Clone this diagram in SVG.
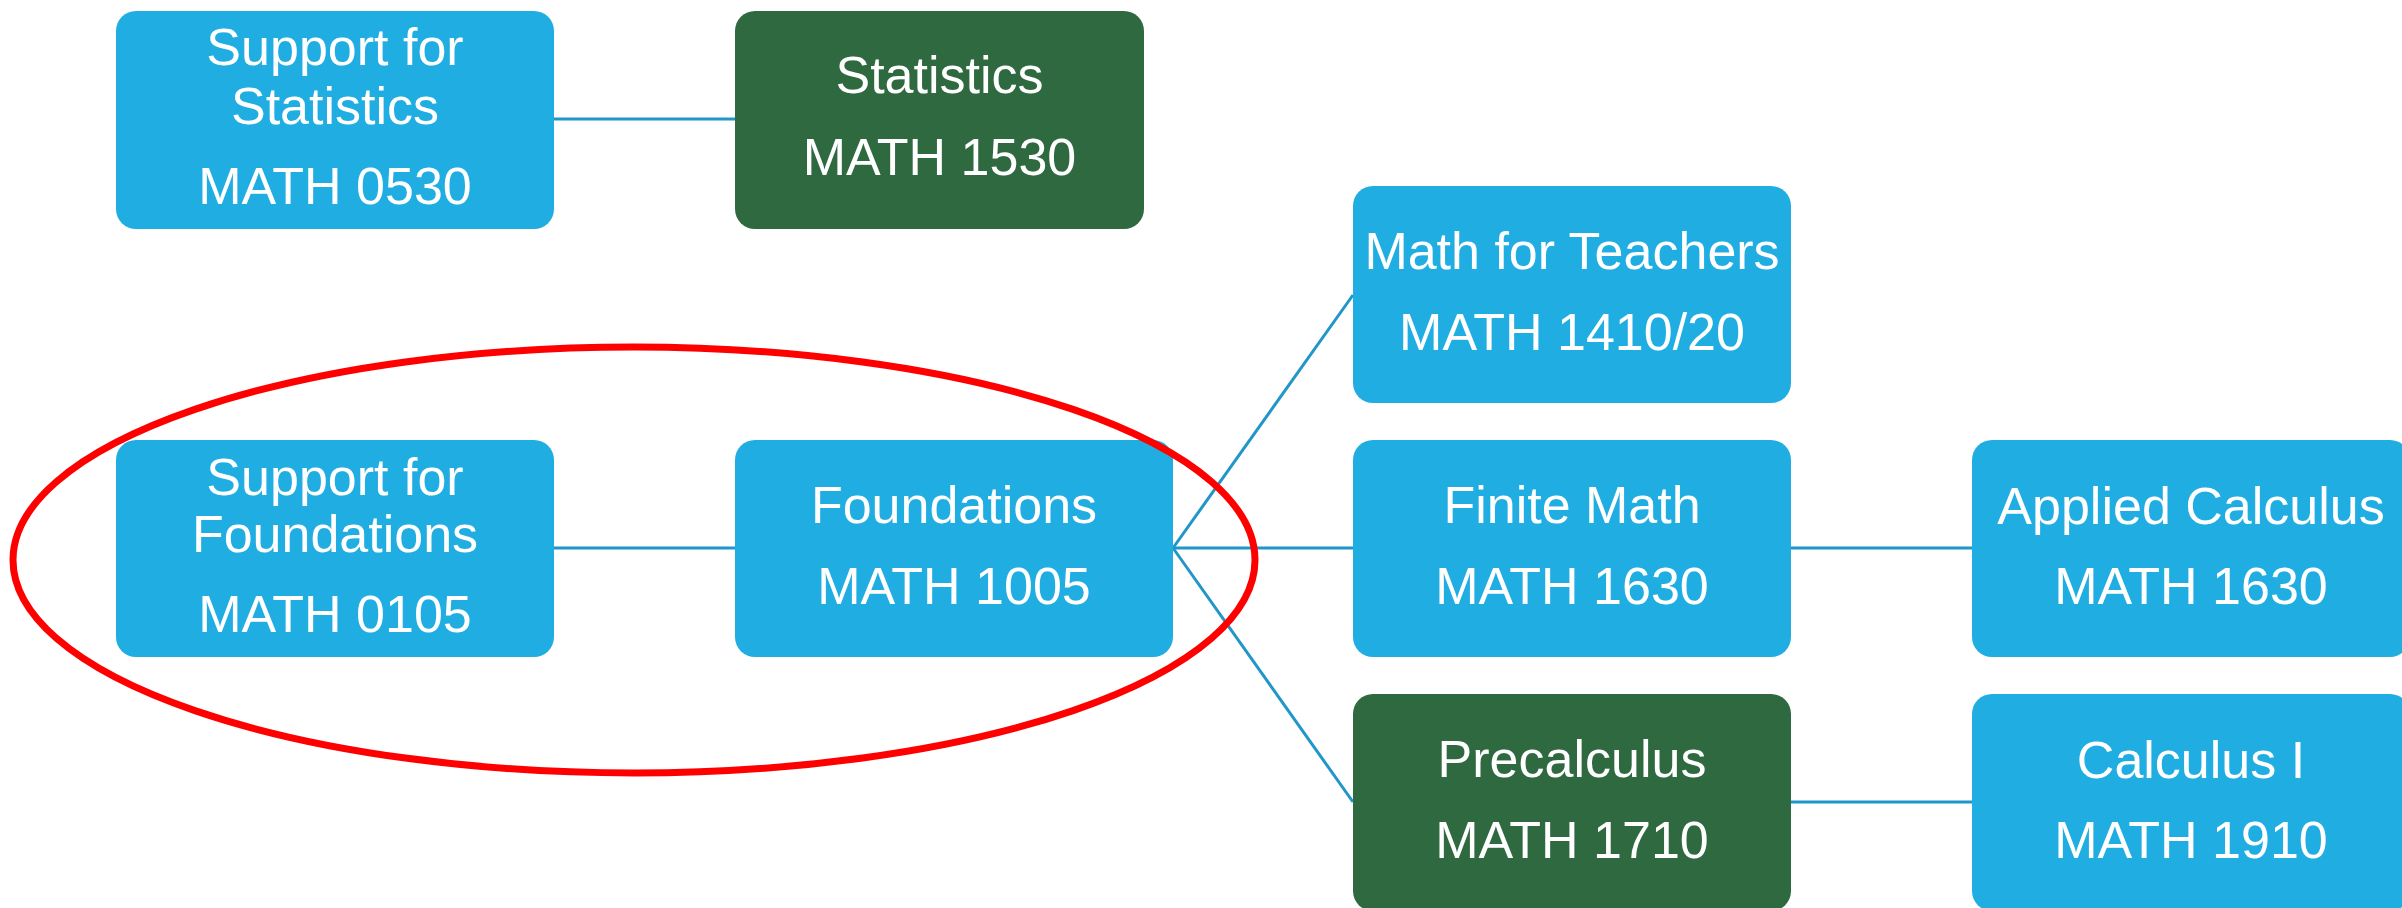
<svg xmlns="http://www.w3.org/2000/svg" width="2402" height="908" viewBox="0 0 2402 908">
<style>
.blue{fill:#1FADE2}
.green{fill:#2F6940}
.t{font-family:"Liberation Sans",Arial,sans-serif;font-size:52px;fill:#FFFFFF;text-anchor:middle}
.c{stroke:#2196C8;stroke-width:3;fill:none}
</style>
<rect width="2402" height="908" fill="#FFFFFF"/>
<g id="connectors">
<line class="c" x1="554" y1="119" x2="735" y2="119"/>
<line class="c" x1="554" y1="548" x2="735" y2="548"/>
<line class="c" x1="1173" y1="548" x2="1353" y2="295"/>
<line class="c" x1="1173" y1="548" x2="1353" y2="548"/>
<line class="c" x1="1173" y1="548" x2="1353" y2="802"/>
<line class="c" x1="1791" y1="548" x2="1972" y2="548"/>
<line class="c" x1="1791" y1="802" x2="1972" y2="802"/>
</g>
<g id="support-statistics">
<rect class="blue" x="116" y="11" width="438" height="218" rx="20"/>
<text class="t" x="335" y="65">Support for</text>
<text class="t" x="335" y="124">Statistics</text>
<text class="t" x="335" y="204">MATH 0530</text>
</g>
<g id="statistics">
<rect class="green" x="735" y="11" width="409" height="218" rx="20"/>
<text class="t" x="939.5" y="93">Statistics</text>
<text class="t" x="939.5" y="175">MATH 1530</text>
</g>
<g id="math-teachers">
<rect class="blue" x="1353" y="186" width="438" height="217" rx="20"/>
<text class="t" x="1572" y="269">Math for Teachers</text>
<text class="t" x="1572" y="350">MATH 1410/20</text>
</g>
<g id="support-foundations">
<rect class="blue" x="116" y="440" width="438" height="217" rx="20"/>
<text class="t" x="335" y="495">Support for</text>
<text class="t" x="335" y="552">Foundations</text>
<text class="t" x="335" y="632">MATH 0105</text>
</g>
<g id="foundations">
<rect class="blue" x="735" y="440" width="438" height="217" rx="20"/>
<text class="t" x="954" y="523">Foundations</text>
<text class="t" x="954" y="604">MATH 1005</text>
</g>
<g id="finite-math">
<rect class="blue" x="1353" y="440" width="438" height="217" rx="20"/>
<text class="t" x="1572" y="523">Finite Math</text>
<text class="t" x="1572" y="604">MATH 1630</text>
</g>
<g id="applied-calculus">
<rect class="blue" x="1972" y="440" width="438" height="217" rx="20"/>
<text class="t" x="2191" y="524">Applied Calculus</text>
<text class="t" x="2191" y="604">MATH 1630</text>
</g>
<g id="precalculus">
<rect class="green" x="1353" y="694" width="438" height="217" rx="20"/>
<text class="t" x="1572" y="777">Precalculus</text>
<text class="t" x="1572" y="858">MATH 1710</text>
</g>
<g id="calculus-1">
<rect class="blue" x="1972" y="694" width="438" height="217" rx="20"/>
<text class="t" x="2191" y="778">Calculus I</text>
<text class="t" x="2191" y="858">MATH 1910</text>
</g>
<g id="highlight">
<ellipse cx="634" cy="560" rx="621" ry="213" fill="none" stroke="#FF0000" stroke-width="7"/>
</g>
</svg>
